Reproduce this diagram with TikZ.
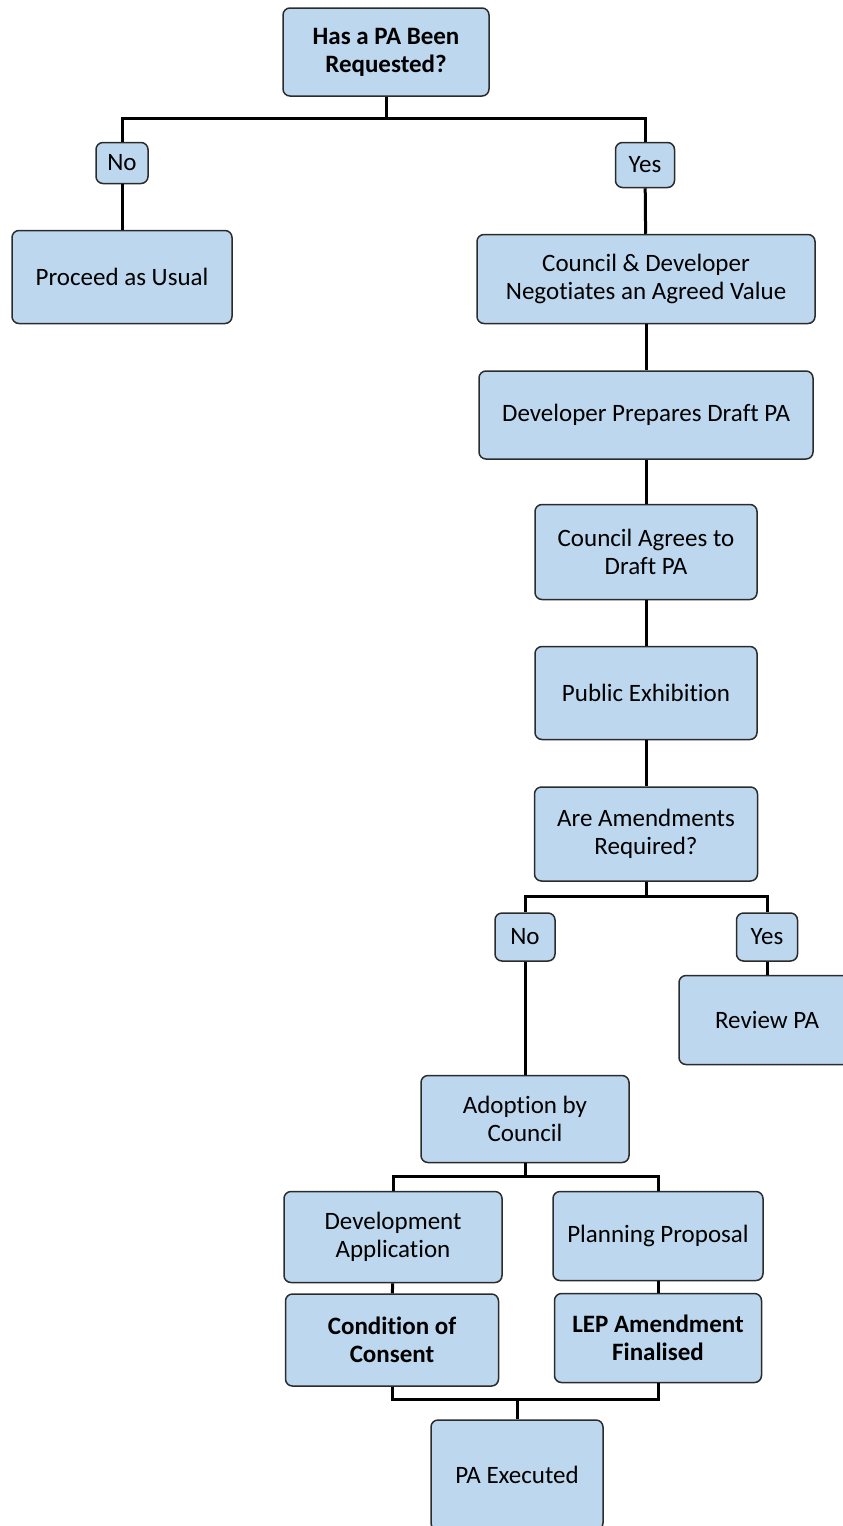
\documentclass[tikz,border=0pt]{standalone}
\usepackage{fontspec}
\setmainfont{Carlito}[Ligatures=NoCommon]
\definecolor{boxblue}{HTML}{BDD7EE}
\definecolor{boxline}{HTML}{2B2B2B}
\tikzset{
  box/.style={draw=boxline, line width=1.5pt, fill=boxblue, rounded corners=7pt, inner sep=0pt, align=center, font=\fontsize{25}{28}\selectfont},
  boldbox/.style={box, font=\fontsize{25}{28}\selectfont\bfseries},
  wire/.style={line width=3pt, black}
}

\begin{document}
\begin{tikzpicture}[x=1pt,y=-1pt]
\clip (0,0) rectangle (843,1526);
% buses
\coordinate (bus1) at (0,118);
\coordinate (bus2) at (0,896);
\coordinate (bus3) at (0,1176);
\coordinate (bus4) at (0,1399);
% boxes
\node[boldbox, minimum width=206pt, minimum height=88pt] (req) at (386,52) {Has a PA Been\\Requested?};
\node[box, minimum width=52pt, minimum height=41pt] (no1) at (122,163) {No};
\node[box, minimum width=59pt, minimum height=45pt] (yes1) at (645,165) {Yes};
\node[box, minimum width=220pt, minimum height=93pt] (usual) at (122,277) {Proceed as Usual};
\node[box, minimum width=338pt, minimum height=89pt] (nego) at (646,279) {Council \& Developer\\Negotiates an Agreed Value};
\node[box, minimum width=334pt, minimum height=88pt] (draft) at (646,415) {Developer Prepares Draft PA};
\node[box, minimum width=222pt, minimum height=95pt] (agree) at (646,552) {Council Agrees to\\Draft PA};
\node[box, minimum width=222pt, minimum height=93pt] (exhib) at (646,693) {Public Exhibition};
\node[box, minimum width=223pt, minimum height=94pt] (amend) at (646,834) {Are Amendments\\Required?};
\node[box, minimum width=60pt, minimum height=48pt] (no2) at (525,937) {No};
\node[box, minimum width=61pt, minimum height=48pt] (yes2) at (767,937) {Yes};
\node[box, minimum width=176pt, minimum height=89pt] (review) at (767,1020) {Review PA};
\node[box, minimum width=208pt, minimum height=87pt] (adopt) at (525,1119) {Adoption by\\Council};
\node[box, minimum width=218pt, minimum height=91pt] (devapp) at (393,1237) {Development\\Application};
\node[box, minimum width=210pt, minimum height=89pt] (plan) at (658,1236) {Planning Proposal};
\node[boldbox, minimum width=213pt, minimum height=92pt] (consent) at (392,1340) {Condition of\\Consent};
\node[boldbox, minimum width=207pt, minimum height=89pt] (lep) at (658,1338) {LEP Amendment\\Finalised};
\node[box, minimum width=172pt, minimum height=110pt] (exec) at (517,1475) {PA Executed};
% connectors
\draw[wire] (req.south) -- (req.south |- bus1) -| (no1.north);
\draw[wire] (req.south |- bus1) -| (yes1.north);
\draw[wire] (no1) -- (usual);
\draw[wire] (yes1) -- (nego);
\draw[wire] (nego) -- (draft);
\draw[wire] (draft) -- (agree);
\draw[wire] (agree) -- (exhib);
\draw[wire] (exhib) -- (amend);
\draw[wire] (amend.south) -- (amend.south |- bus2) -| (no2.north);
\draw[wire] (amend.south |- bus2) -| (yes2.north);
\draw[wire] (yes2) -- (review);
\draw[wire] (no2) -- (adopt);
\draw[wire] (adopt.south) -- (adopt.south |- bus3) -| (devapp.north);
\draw[wire] (adopt.south |- bus3) -| (plan.north);
\draw[wire] (devapp) -- (consent);
\draw[wire] (plan) -- (lep);
\draw[wire] (consent.south) |- (exec.north |- bus4) -- (exec.north);
\draw[wire] (lep.south) |- (exec.north |- bus4);
\end{tikzpicture}
\end{document}
